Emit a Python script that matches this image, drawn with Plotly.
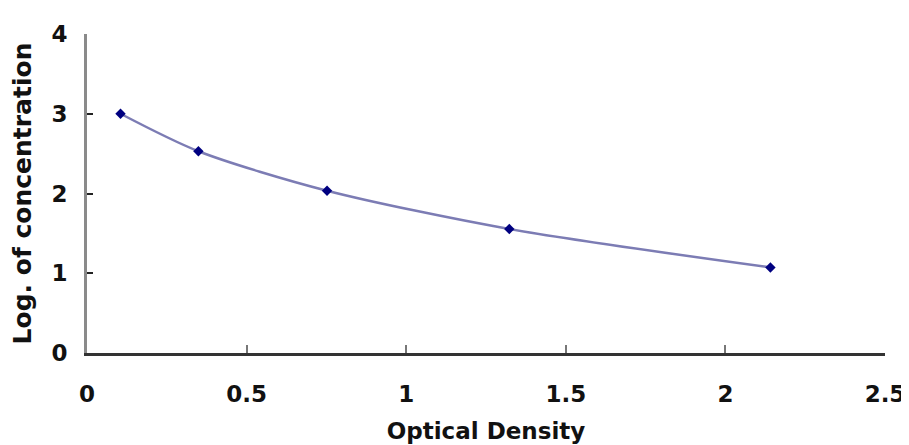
import plotly.graph_objects as go

# Data
optical_density = [0.105, 0.349, 0.752, 1.323, 2.141]
log_concentration = [3.00, 2.53, 2.035, 1.555, 1.073]

x_ticks = [0, 0.5, 1, 1.5, 2, 2.5]
x_tick_labels = ["0", "0.5", "1", "1.5", "2", "2.5"]
y_ticks = [0, 1, 2, 3, 4]
y_tick_labels = ["0", "1", "2", "3", "4"]

FONT = "DejaVu Sans"

fig = go.Figure()
fig.add_trace(go.Scatter(
    x=optical_density,
    y=log_concentration,
    mode="lines+markers",
    line=dict(color="#7c7cb4", width=2.5, shape="spline", smoothing=0.8),
    marker=dict(symbol="diamond", size=8, color="#000080"),
    showlegend=False,
))

fig.update_layout(
    width=909,
    height=445,
    margin=dict(l=79, r=30, t=26, b=100),
    paper_bgcolor="white",
    plot_bgcolor="white",
    font=dict(family=FONT, color="#111111"),
    xaxis=dict(
        range=[0, 2.5],
        tickvals=x_ticks,
        ticktext=x_tick_labels,
        showgrid=False,
        zeroline=False,
        showline=True,
        linecolor="#333333",
        linewidth=3,
        ticks="inside",
        ticklen=8,
        tickwidth=2,
        tickcolor="#777777",
        ticklabelstandoff=18,
        tickfont=dict(family=FONT, size=23, weight=700, color="#111111"),
        title=dict(text="Optical Density", standoff=18,
                   font=dict(family=FONT, size=23, weight=700, color="#111111")),
    ),
    yaxis=dict(
        range=[0, 4],
        tickvals=y_ticks,
        ticktext=y_tick_labels,
        showgrid=False,
        zeroline=False,
        showline=True,
        linecolor="#8a8a8a",
        linewidth=3,
        ticks="inside",
        ticklen=6,
        tickwidth=2,
        tickcolor="#222222",
        ticklabelstandoff=12,
        automargin=False,
        tickfont=dict(family=FONT, size=23, weight=700, color="#111111"),
        title=dict(text="Log. of concentration", standoff=20,
                   font=dict(family=FONT, size=25, weight=700, color="#111111")),
    ),
)

fig.write_html("out.html")
